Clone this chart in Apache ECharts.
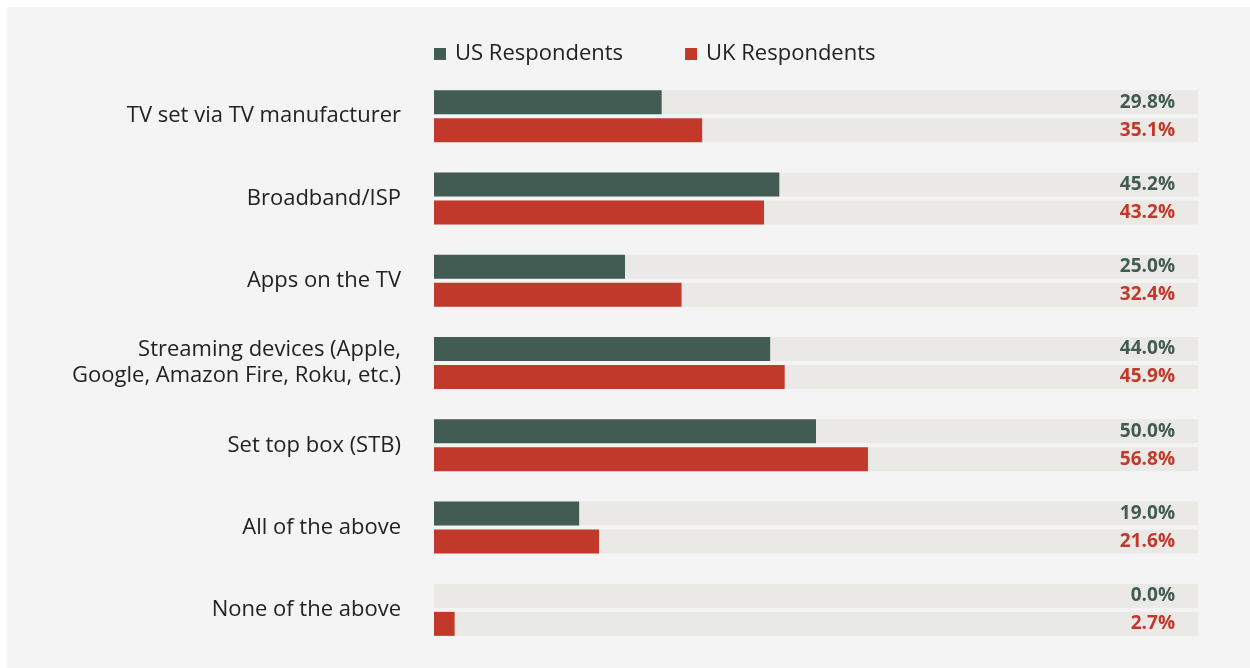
<!DOCTYPE html>
<html>
<head>
<meta charset="utf-8">
<style>
  html, body { margin: 0; padding: 0; background: #ffffff; }
  #chart { position: absolute; left: 7px; top: 7px; width: 1243px; height: 661px; background: #f4f4f4; }
</style>
<script src="https://cdn.jsdelivr.net/npm/echarts@6/dist/echarts.min.js"></script>
</head>
<body>
<div id="chart"></div>
<script>
// Device sources, top to bottom
const categories = [
  'TV set via TV manufacturer',
  'Broadband/ISP',
  'Apps on the TV',
  'Streaming devices (Apple,\nGoogle, Amazon Fire, Roku, etc.)',
  'Set top box (STB)',
  'All of the above',
  'None of the above'
];
const usValues = [29.8, 45.2, 25.0, 44.0, 50.0, 19.0, 0.0];
const ukValues = [35.1, 43.2, 32.4, 45.9, 56.8, 21.6, 2.7];
const trackMax = 100;

const US_COLOR = '#435c53';
const UK_COLOR = '#c0392b';
const TRACK_COLOR = '#ebe9e6';
const FONT = '"Open Sans", sans-serif';

const layout = { barCategoryGap: '36.8%', barGap: '16.7%' };
const track = categories.map(() => trackMax);

const chart = echarts.init(document.getElementById('chart'), null, { renderer: 'canvas' });

const yAxisBase = {
  type: 'category',
  data: categories,
  inverse: true,
  axisLine: { show: false },
  axisTick: { show: false },
  splitLine: { show: false }
};

chart.setOption({
  animation: false,
  textStyle: { fontFamily: FONT },
  legend: {
    data: ['US Respondents', 'UK Respondents'],
    left: 427,
    top: 36,
    padding: 0,
    itemWidth: 12,
    itemHeight: 12,
    itemGap: 62,
    icon: 'rect',
    textStyle: { fontFamily: FONT, fontSize: 22, color: '#222222', padding: [0, 0, 0, 4] }
  },
  grid: { left: 427, right: 52, top: 68, bottom: 17, containLabel: false },
  xAxis: [{
    type: 'value', min: 0, max: trackMax, show: false
  }],
  yAxis: [
    Object.assign({}, yAxisBase, {
      axisLabel: {
        fontFamily: FONT, fontSize: 22, color: '#222222', margin: 33,
        lineHeight: 26, align: 'right', padding: [4, 0, 0, 0]
      }
    }),
    Object.assign({}, yAxisBase, { show: false })
  ],
  series: [
    {
      name: 'US track', type: 'bar', yAxisIndex: 1, data: track, silent: true,
      itemStyle: { color: TRACK_COLOR }, z: 1,
      barCategoryGap: layout.barCategoryGap, barGap: layout.barGap,
      label: {
        show: true, position: 'insideRight', distance: 23,
        formatter: p => usValues[p.dataIndex].toFixed(1) + '%',
        fontFamily: FONT, fontSize: 19, fontWeight: 'bold', color: US_COLOR
      }
    },
    {
      name: 'UK track', type: 'bar', yAxisIndex: 1, data: track, silent: true,
      itemStyle: { color: TRACK_COLOR }, z: 1,
      barCategoryGap: layout.barCategoryGap, barGap: layout.barGap,
      label: {
        show: true, position: 'insideRight', distance: 23,
        formatter: p => ukValues[p.dataIndex].toFixed(1) + '%',
        fontFamily: FONT, fontSize: 19, fontWeight: 'bold', color: UK_COLOR
      }
    },
    {
      name: 'US Respondents', type: 'bar', yAxisIndex: 0, data: usValues,
      itemStyle: { color: US_COLOR }, z: 3,
      barCategoryGap: layout.barCategoryGap, barGap: layout.barGap
    },
    {
      name: 'UK Respondents', type: 'bar', yAxisIndex: 0, data: ukValues,
      itemStyle: { color: UK_COLOR }, z: 3,
      barCategoryGap: layout.barCategoryGap, barGap: layout.barGap
    }
  ]
});
</script>
</body>
</html>
